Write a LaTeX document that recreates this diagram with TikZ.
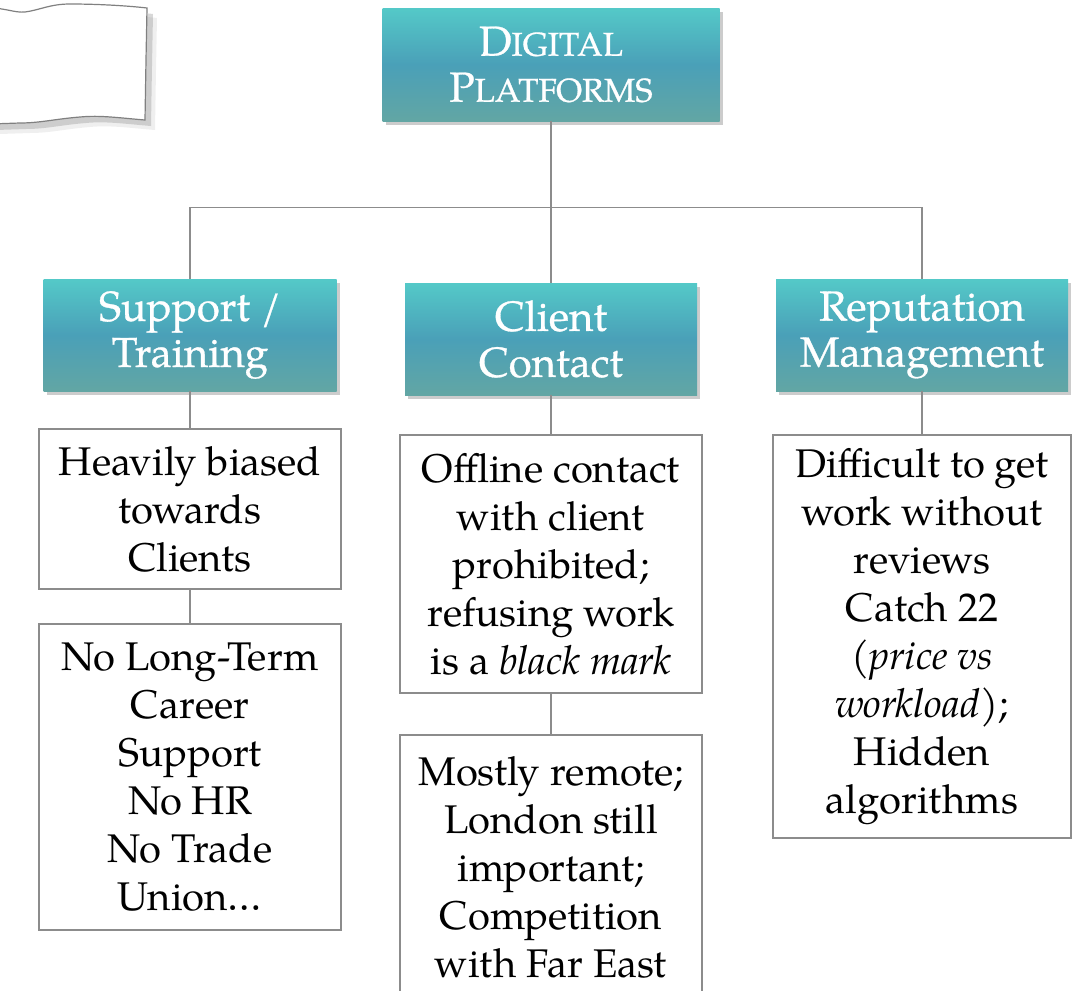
\documentclass[tikz,border=0pt]{standalone}
\usepackage{fontspec}
\setmainfont{texgyrepagella-regular.otf}[ItalicFont=texgyrepagella-italic.otf,BoldFont=texgyrepagella-bold.otf]
\newfontfamily\titlefont{texgyrepagella-regular.otf}[FakeBold=0.7]
\usetikzlibrary{shadows}
\usetikzlibrary{calc}

\definecolor{tealtop}{RGB}{84,201,200}
\definecolor{tealmid}{RGB}{74,160,184}
\definecolor{tealbot}{RGB}{98,166,164}
\definecolor{linegray}{RGB}{140,140,140}

\newcommand{\smallcap}[1]{{\fontsize{16.5}{20}\selectfont #1}}

\tikzstyle{topic}=[shade,top color=tealtop,bottom color=tealbot,middle color=tealmid,text=white,align=center,inner sep=0pt,drop shadow={shadow xshift=1.5pt,shadow yshift=-2pt,opacity=.4},font=\titlefont\fontsize{21}{23}\selectfont]
\tikzstyle{item}=[draw=linegray,fill=white,line width=0.7pt,align=center,inner sep=0pt,font=\fontsize{20}{24}\selectfont]
\tikzstyle{link} = [draw=linegray,line width=0.7pt]

\begin{document}
\begin{tikzpicture}[x=0.5pt,y=-0.5pt]

   \fill[white] (0,0) rectangle (1073,991);
   \useasboundingbox (0,0) rectangle (1073,991);

   % curled sheet in the corner
   \draw[draw=gray,fill=white,line width=0.6pt,
         drop shadow={shadow xshift=5pt,shadow yshift=-5pt,opacity=.12},
         drop shadow={shadow xshift=3pt,shadow yshift=-3pt,opacity=.3}]
      (-10,8) .. controls (5,8) and (15,13) .. (25,12)
      .. controls (40,10) and (50,4) .. (70,4)
      .. controls (100,4) and (130,6) .. (147,8)
      -- (146,60) -- (145,120)
      .. controls (120,118) and (100,115) .. (80,117)
      .. controls (55,119) and (40,123) .. (20,123)
      -- (-10,124) -- cycle;

   % root and categories
   \node[topic,minimum width=168.5pt,minimum height=56.5pt] (plat) at (551,64.5)
      {D\smallcap{IGITAL}\\P\smallcap{LATFORMS}};
   \node[topic,minimum width=146.5pt,minimum height=56pt] (support) at (190,335) {Support /\\Training};
   \node[topic,minimum width=146pt,minimum height=56pt] (client) at (551,339) {Client\\Contact};
   \node[topic,minimum width=146pt,minimum height=56pt] (repu) at (922,335) {Reputation\\Management};

   % issues
   \node[item,minimum width=151pt,minimum height=80pt] (heavily) at (190,509)
      {Heavily biased\\towards\\Clients};
   \node[item,minimum width=151pt,minimum height=153pt] (career) at (190,777)
      {No Long-Term\\Career\\Support\\No HR\\No Trade\\Union\ldots};
   \node[item,minimum width=151pt,minimum height=129pt] (offline) at (551,564)
      {Offline contact\\with client\\prohibited;\\refusing work\\is a \textit{black mark}};
   \node[item,minimum width=151pt,minimum height=132pt] (remote) at (551,867)
      {Mostly remote;\\London still\\important;\\Competition\\with Far East};
   \node[item,minimum width=149pt,minimum height=201.5pt] (reviews) at (922,636.5)
      {Difficult to get\\work without\\reviews\\Catch 22\\(\textit{price vs}\\\textit{workload});\\Hidden\\algorithms};

   % Connect root with categories
   \draw[link] (plat) -- (client);
   \draw[link] (plat.south) -- ++(0,86) -| (support.north);
   \draw[link] (plat.south) -- ++(0,86) -| (repu.north);

   % Connect categories with issues
   \foreach \source/ \dest in {support/heavily,heavily/career,client/offline,offline/remote,repu/reviews}
      \draw[link] (\source) -- (\dest);

\end{tikzpicture}
\end{document}
